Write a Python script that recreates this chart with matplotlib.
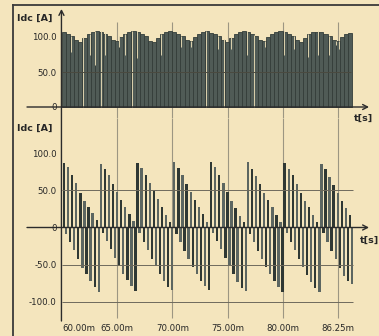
import matplotlib
matplotlib.use("Agg")
import matplotlib.pyplot as plt
import numpy as np

# ---------------- data ----------------
# time in ms; sample spacing of the PWM pulses
t_start = 60.185
t_step = 0.37

# upper trace: Idc envelope of the pulses [A]
top_vals = [
    107, 105, 101, 96, 93, 99, 104, 107, 108,
    107, 105, 102, 96, 94, 100, 104, 107, 108,
    107, 104, 101, 95, 93, 99, 104, 107, 108,
    107, 105, 101, 96, 94, 100, 104, 107, 108,
    106, 105, 101, 96, 93, 99, 104, 107, 108,
    107, 105, 102, 96, 94, 100, 104, 107, 108,
    107, 104, 101, 96, 93, 99, 104, 107, 107,
    107, 105, 101, 96, 94, 100, 104, 106,
]
# short drops of the upper trace (time ms, level A)
notch_t = [60.8, 61.9, 62.5, 63.0, 63.5, 63.9, 65.2, 65.7, 66.3, 66.8, 69.0,
           70.8, 71.7, 73.0, 74.1, 74.7, 75.3, 76.8, 77.4, 78.4, 80.1, 81.0,
           82.3, 83.2, 84.2, 84.8, 85.1]
notch_lvl = [79, 0, 74, 60, 0, 74, 86, 74, 0, 70, 74,
             86, 86, 0, 83, 0, 83, 74, 0, 86, 74, 83,
             71, 74, 74, 88, 83]

# lower trace: positive and negative pulses [A]
pos_vals = [
    87, 81, 70, 60, 47, 35, 28, 20, 10,
    85, 79, 70, 59, 48, 37, 27, 18, 9,
    87, 80, 71, 60, 49, 38, 27, 17, 8,
    88, 80, 70, 59, 48, 37, 28, 18, 8,
    88, 81, 71, 60, 48, 36, 26, 16, 7,
    88, 79, 69, 58, 47, 37, 27, 17, 8,
    87, 79, 70, 59, 47, 36, 27, 17, 8,
    86, 78, 68, 57, 46, 35, 26, 17,
]
neg_vals = [
    -9, -19, -30, -43, -54, -63, -72, -80, -87,
    -8, -18, -29, -41, -52, -62, -71, -79, -85,
    -8, -19, -30, -42, -52, -62, -72, -80, -84,
    -9, -19, -31, -42, -53, -63, -72, -79, -84,
    -8, -18, -29, -41, -52, -63, -73, -81, -85,
    -9, -20, -31, -42, -53, -63, -72, -80, -87,
    -8, -19, -30, -42, -53, -64, -73, -81, -87,
    -8, -19, -31, -43, -54, -65, -72, -76,
]

x_tick_pos = [60, 65, 70, 75, 80, 85]
x_tick_labels = ["60.00m", "65.00m", "70.00m", "75.00m", "80.00m", "86.25m"]
top_yticks = [0, 50, 100]
top_ylabels = ["0", "50.0", "100.0"]
bot_yticks = [-100, -50, 0, 50, 100]
bot_ylabels = ["-100.0", "-50.0", "0", "50.0", "100.0"]
top_hgrid = [50]
bot_hgrid = [50, -50, -100]
ylabel_text = "Idc [A]"
xlabel_text = "t[s]"

# ---------------- style ----------------
BG = "#f4e5bd"
AXC = "#2b2b2b"
GRID = "#9c9682"
DARK = "#2f3834"
MID = "#5c6661"
TXT = "#262626"

W, H = 379, 336
fig = plt.figure(figsize=(W / 100, H / 100), dpi=100, facecolor=BG)

PX_PER_5MS = 55.2

def px_to_ms(p):
    return 60 + (p - 62) * 5 / PX_PER_5MS

XL = (px_to_ms(60), px_to_ms(379))

ax1 = fig.add_axes([60 / W, 1 - 118 / H, 319 / W, 110 / H])
ax1.set_xlim(*XL)
ax1.set_ylim((107 - 118) / 0.70, (107 - 8) / 0.70)

ax2 = fig.add_axes([60 / W, 1 - 320 / H, 319 / W, 202 / H])
ax2.set_xlim(*XL)
ax2.set_ylim((227.5 - 320) / 0.744, (227.5 - 118) / 0.744)

ax1.set_zorder(2)
ax2.set_zorder(1)
for ax in (ax1, ax2):
    ax.set_facecolor("none")
    for s in ax.spines.values():
        s.set_visible(False)

# ---- vertical grid lines (both panels)
grid_x = x_tick_pos[1:]
ax1.vlines(grid_x, ax1.get_ylim()[0], (107 - 22) / 0.70, color=GRID, lw=0.8, zorder=0)
ax2.vlines(grid_x, (227.5 - 318) / 0.744, ax2.get_ylim()[1], color=GRID, lw=0.8, zorder=0)

# ---- upper trace
t_top = t_start + t_step * np.arange(len(top_vals))
ax1.bar(t_top, top_vals, width=t_step, color="#505b56", edgecolor="#343d39",
        linewidth=0.6, zorder=2)
top_tip = [top_vals[min(int(round((t - t_start) / t_step)), len(top_vals) - 1)] for t in notch_t]
ax1.vlines(notch_t, notch_lvl, [v + 1 for v in top_tip], color="#ddd2ad", lw=0.7, zorder=3)
ax1.hlines(top_hgrid, 60, 86.2, color="#4a4a40", lw=0.7, zorder=4)

# ---- lower trace
t_pos = t_start + t_step * np.arange(len(pos_vals))
t_neg = t_pos + t_step / 2
cols_p = [DARK if i % 2 == 0 else MID for i in range(len(pos_vals))]
cols_n = [MID if i % 2 == 0 else DARK for i in range(len(neg_vals))]
ax2.bar(t_pos, pos_vals, width=0.21, color=cols_p, linewidth=0, zorder=2)
ax2.bar(t_neg, neg_vals, width=0.21, color=cols_n, linewidth=0, zorder=2)
ax2.hlines(bot_hgrid, 60, 86.4, color="#6e6a5c", lw=0.7, zorder=3)

# ---- axes lines with arrows
arrow = dict(arrowstyle="->,head_length=0.35,head_width=0.18", color=AXC, lw=1.0,
             shrinkA=0, shrinkB=0)
for ax in (ax1, ax2):
    ax.annotate("", xy=(px_to_ms(369), 0), xytext=(px_to_ms(27), 0),
                arrowprops=arrow, annotation_clip=False, zorder=5)
ax2.annotate("", xy=(59.95, 1 - 9 / H), xytext=(59.95, 1 - 321 / H),
             xycoords=("data", "figure fraction"), textcoords=("data", "figure fraction"),
             arrowprops=arrow, annotation_clip=False, zorder=5)

# ---- ticks
ax1.set_xticks([])
ax1.set_yticks(top_yticks)
ax1.set_yticklabels(top_ylabels)
ax2.set_yticks(bot_yticks)
ax2.set_yticklabels(bot_ylabels)
ax2.set_xticks(x_tick_pos)
ax2.set_xticklabels(x_tick_labels)
for ax in (ax1, ax2):
    ax.tick_params(axis="both", length=0, labelsize=6.2, labelcolor=TXT)
    ax.tick_params(axis="y", pad=2.5)
ax2.tick_params(axis="x", pad=3)
ax2.get_xticklabels()[0].set_ha("left")

# ---- axis titles
fig.text(35 / W, 1 - 18 / H, ylabel_text, ha="center", va="center", fontsize=6.8,
         fontweight="bold", color=TXT)
fig.text(35 / W, 1 - 128 / H, ylabel_text, ha="center", va="center", fontsize=6.8,
         fontweight="bold", color=TXT)
fig.text(363 / W, 1 - 118 / H, xlabel_text, ha="center", va="center", fontsize=6.8,
         fontweight="bold", color=TXT)
fig.text(369 / W, 1 - 240 / H, xlabel_text, ha="center", va="center", fontsize=6.8,
         fontweight="bold", color=TXT)

# ---- outer frame (left and top edge)
fig.add_artist(plt.Line2D([12.5 / W, 12.5 / W], [0, 1 - 5 / H], color="#3a3a3a", lw=1.3))
fig.add_artist(plt.Line2D([12.5 / W, 1.01], [1 - 5 / H, 1 - 5 / H], color="#3a3a3a", lw=1.3))

fig.savefig("out.png", dpi=100, facecolor=BG)
